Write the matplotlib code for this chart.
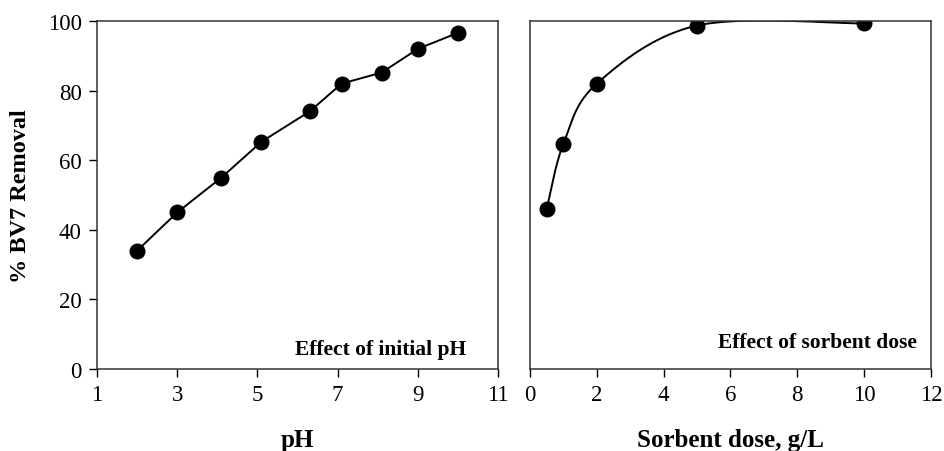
import numpy as np
import matplotlib.pyplot as plt

plt.rcParams['font.family'] = ['Liberation Serif', 'DejaVu Serif']

# effect of initial pH
ph = [2, 3, 4.1, 5.1, 6.3, 7.1, 8.1, 9, 10]
removal_ph = [34, 45, 55, 65.3, 74, 82, 85.2, 92, 96.6]

# effect of sorbent dose
dose = [0.5, 1, 2, 5, 10]
removal_dose = [46, 64.7, 82, 98.7, 99.3]


def smooth(x, y, sx, sy, n=60):
    # Excel-like smoothed line (Catmull-Rom in screen-ish coordinates)
    p = np.column_stack([np.array(x) * sx, np.array(y) * sy])
    p = np.vstack([p[0], p, p[-1]])
    out = []
    t = np.linspace(0, 1, n)[:, None]
    for i in range(1, len(p) - 2):
        p0, p1, p2, p3 = p[i - 1], p[i], p[i + 1], p[i + 2]
        c = 0.5 * ((2 * p1) + (-p0 + p2) * t + (2 * p0 - 5 * p1 + 4 * p2 - p3) * t ** 2
                   + (-p0 + 3 * p1 - 3 * p2 + p3) * t ** 3)
        out.append(c)
    out = np.vstack(out)
    return out[:, 0] / sx, out[:, 1] / sy


fig = plt.figure(figsize=(9.44, 4.52), dpi=100)
ax1 = fig.add_axes([0.1028, 0.1814, 0.4248, 0.7699])
ax2 = fig.add_axes([0.5614, 0.1814, 0.4248, 0.7699])

ax1.plot(ph, removal_ph, color='black', lw=1.4, marker='o', ms=10.5)
ax1.set_xlim(1, 11)
ax1.set_ylim(0, 100)
ax1.set_xticks([1, 3, 5, 7, 9, 11])
ax1.set_yticks([0, 20, 40, 60, 80, 100])
ax1.set_xlabel('pH', fontsize=18, fontweight='bold', labelpad=16)
ax1.set_ylabel('% BV7 Removal', fontsize=17.5, fontweight='bold', labelpad=12)
ax1.text(0.92, 0.057, 'Effect of initial pH', transform=ax1.transAxes,
         ha='right', va='center', fontsize=15.5, fontweight='bold')

sx, sy = smooth(dose, removal_dose, 401 / 12, 348 / 100)
ax2.plot(sx, sy, color='black', lw=1.4)
ax2.plot(dose, removal_dose, 'o', color='black', ms=10.5)
ax2.set_xlim(0, 12)
ax2.set_ylim(0, 100)
ax2.set_xticks([0, 2, 4, 6, 8, 10, 12])
ax2.set_yticks([])
ax2.set_xlabel('Sorbent dose, g/L', fontsize=18, fontweight='bold', labelpad=16)
ax2.text(0.965, 0.077, 'Effect of sorbent dose', transform=ax2.transAxes,
         ha='right', va='center', fontsize=15.5, fontweight='bold')

for ax in (ax1, ax2):
    ax.tick_params(direction='out', length=6, width=1, labelsize=16.5, pad=5)
    for s in ax.spines.values():
        s.set_linewidth(1.1)
        s.set_color('#333333')

plt.savefig('out.png', dpi=100)
